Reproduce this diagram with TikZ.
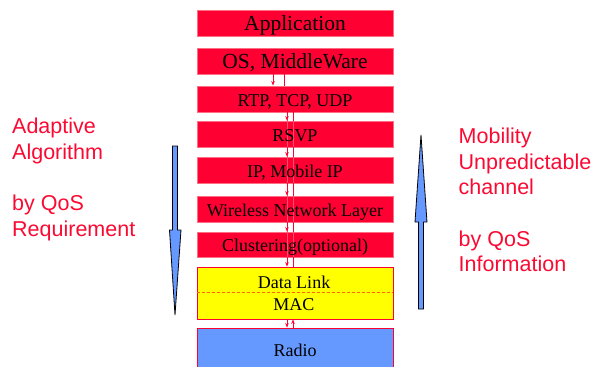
\documentclass[tikz,border=0pt]{standalone}
\usepackage{fontspec}
\setmainfont{Liberation Serif}
\newfontfamily\arialfont{Liberation Sans}
\usetikzlibrary{arrows.meta}
\definecolor{boxred}{RGB}{255,0,51}
\definecolor{edgered}{RGB}{255,110,130}
\definecolor{lyel}{RGB}{255,255,0}
\definecolor{lblue}{RGB}{102,153,255}
\definecolor{txtred}{RGB}{250,10,50}
\tikzset{
  layer/.style={rectangle, fill=boxred, draw=edgered, line width=0.8pt,
    minimum width=196pt, inner sep=0pt},
  bigtxt/.style={font=\fontsize{21.5}{24}\selectfont, text height=18.5pt, text depth=3pt},
  smltxt/.style={font=\fontsize{18}{21}\selectfont, text height=17pt, text depth=3pt},
  plain/.style={inner sep=0pt, anchor=base, font=\fontsize{18}{21}\selectfont},
  link/.style={draw=boxred, line width=0.7pt},
  downarr/.style={link, -{Stealth[length=4.5pt,width=3.5pt]}},
  thru/.style={draw=edgered!70!boxred, line width=0.4pt},
  bigarrow/.style={fill=lblue, draw=black, line width=0.8pt, line join=miter},
  sidetxt/.style={anchor=north west, align=left, inner sep=0pt, text=txtred,
    font=\arialfont\fontsize{21.5}{25.7}\selectfont}
}
\begin{document}
\begin{tikzpicture}[x=1pt,y=-1pt]
\useasboundingbox (0,0) rectangle (595,367);
% layers
\node[layer, bigtxt, minimum height=26pt] (app) at (295,23) {Application};
\node[layer, bigtxt, minimum height=26pt] (os) at (295,61) {OS, MiddleWare};
\node[layer, smltxt, minimum height=26pt] (rtp) at (295,99) {RTP, TCP, UDP};
\node[layer, minimum height=26pt] (rsvp) at (295,134) {};
\node[layer, minimum height=26pt] (ip) at (295,170) {};
\node[layer, minimum height=26pt] (wnl) at (295,209) {};
\node[layer, minimum height=25pt] (clu) at (295,244.5) {};
\node[layer, fill=lyel, draw=boxred, minimum height=52pt] (dl) at (295,293) {};
\node[layer, fill=lblue, draw=boxred, smltxt, minimum height=42pt] (radio) at (295,349) {Radio};
% faint lines through the stack
\draw[thru] ([xshift=-8pt]rtp.south) -- ([xshift=-8pt]clu.south);
\draw[thru] ([xshift=-2pt]rtp.south) -- ([xshift=-2pt]clu.south);
% labels above the faint lines
\node[plain] (rsvptxt) at (295,141) {RSVP};
\node[plain] (iptxt) at (295,177) {IP, Mobile IP};
\node[plain] (wnltxt) at (295,216) {Wireless Network Layer};
\node[plain] (clutxt) at (295,251.5) {Clustering(optional)};
\draw[dashed, draw=orange!80!red, line width=0.8pt, dash pattern=on 3pt off 2pt]
  (dl.west |- 0,292) -- (dl.east |- 0,292);
\node[plain] (dltxt) at (294,288) {Data Link};
\node[plain] (mactxt) at (294,310.5) {MAC};
% connectors between layers
\draw[downarr] ([xshift=-22pt]os.south) -- ([xshift=-22pt]rtp.north);
\draw[link] ([xshift=-11pt]os.south) -- ([xshift=-11pt]rtp.north);
\foreach \a/\b in {rtp/rsvp, rsvp/ip, ip/wnl, wnl/clu, clu/dl}{
  \draw[downarr] ([xshift=-8pt]\a.south) -- ([xshift=-8pt]\b.north);
  \draw[link] ([xshift=-2pt]\a.south) -- ([xshift=-2pt]\b.north);
}
\draw[downarr] ([xshift=-8pt]dl.south) -- ([xshift=-8pt]radio.north);
\draw[downarr] ([xshift=-2pt]radio.north) -- ([xshift=-2pt]dl.south);
% big arrows
\draw[bigarrow] (172.5,146) -- (177.5,146) -- (177.5,230) -- (181,230) -- (175,315)
  -- (169.5,230) -- (172.5,230) -- cycle;
\draw[bigarrow] (418.5,309) -- (423.5,309) -- (423.5,222) -- (427,222) -- (421,135)
  -- (415,222) -- (418.5,222) -- cycle;
% side texts
\node[sidetxt] (lefttxt) at (12,117.6) {Adaptive\\Algorithm\\[25.7pt]by QoS\\Requirement};
\node[sidetxt] (righttxt) at (458.5,127.6) {Mobility\\Unpredictable\\channel\\[25.7pt]by QoS\\Information};
\end{tikzpicture}
\end{document}
